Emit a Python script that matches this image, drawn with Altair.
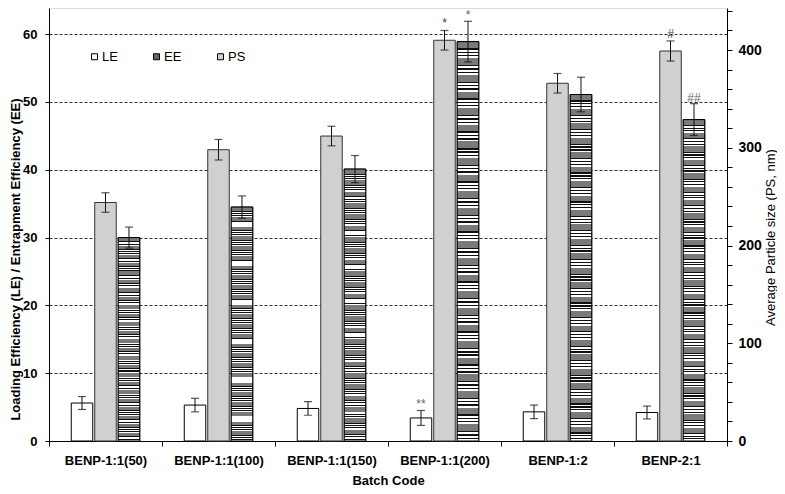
import altair as alt
import pandas as pd

categories = ["BENP-1:1(50)", "BENP-1:1(100)", "BENP-1:1(150)",
              "BENP-1:1(200)", "BENP-1:2", "BENP-2:1"]
le_values = [5.6, 5.3, 4.8, 3.4, 4.3, 4.2]
le_errors = [0.95, 1.0, 1.0, 1.1, 1.0, 0.95]
ee_values = [30.0, 34.5, 40.1, 58.9, 51.1, 47.4]
ee_errors = [1.55, 1.65, 2.0, 3.0, 2.55, 2.35]
ps_values = [244, 298, 312, 410, 366, 399]
ps_errors = [10, 10.5, 10, 10, 10, 10.3]

annot_batch = ["BENP-1:1(200)", "BENP-1:1(200)", "BENP-1:1(200)", "BENP-2:1", "BENP-2:1"]
annot_series = ["LE", "PS", "EE", "PS", "EE"]
annot_text = ["**", "*", "*", "#", "##"]

rows = []
for name, vals, errs in (("LE", le_values, le_errors),
                         ("EE", ee_values, ee_errors),
                         ("PS", ps_values, ps_errors)):
    for b, v, e in zip(categories, vals, errs):
        rows.append({"batch": b, "series": name, "value": v, "err": e,
                     "lo": v - e, "hi": v + e})
df = pd.DataFrame(rows)

arows = []
for b, s, t in zip(annot_batch, annot_series, annot_text):
    r = df[(df.batch == b) & (df.series == s)].iloc[0]
    arows.append({"batch": b, "series": s, "label": t, "hi": r.hi})
adf = pd.DataFrame(arows)

FONT = "Liberation Sans"
LEFT_MAX = 63.86
RIGHT_MAX = 443


def stripe_stops(n=120):
    stops = []
    for i in range(n):
        a = round(i / n, 5)
        b = round((i + 0.42) / n, 5)
        c = round((i + 1) / n, 5)
        if i % 5 in (0, 1):
            stops += [{"offset": a, "color": "#7a7a7a"}, {"offset": c, "color": "#7a7a7a"}]
        else:
            stops += [{"offset": a, "color": "#111111"}, {"offset": b, "color": "#111111"},
                      {"offset": b, "color": "#ffffff"}, {"offset": c, "color": "#ffffff"}]
    return stops


ee_gradient = {"gradient": "linear", "x1": 0, "y1": 0, "x2": 0, "y2": 1,
               "stops": stripe_stops()}

x_enc = alt.X("batch:N", sort=categories,
              scale=alt.Scale(paddingInner=0, paddingOuter=0),
              axis=alt.Axis(title="Batch Code", labelAngle=0, tickBand="extent",
                            labelFont=FONT, labelFontSize=13, labelFontWeight="bold",
                            labelColor="black", labelPadding=8, tickSize=5,
                            tickColor="black", domainColor="black",
                            titleFont=FONT, titleFontSize=13, titleFontWeight="bold",
                            titleColor="black", titleY=39, titleBaseline="middle"))
xo_enc = alt.XOffset("series:N",
                     scale=alt.Scale(domain=["LE", "PS", "EE"],
                                     paddingInner=0.085, paddingOuter=0.947))
fill_enc = alt.Fill("series:N",
                    scale=alt.Scale(domain=["LE", "EE", "PS"],
                                    range=["#ffffff", "#666666", "#d0d0d0"]),
                    legend=alt.Legend(orient="none", legendX=39, legendY=42,
                                      direction="horizontal", title=None,
                                      symbolType="square", symbolSize=36,
                                      symbolStrokeColor="black", symbolStrokeWidth=1,
                                      labelFont=FONT, labelFontSize=13,
                                      labelColor="black", labelOffset=1,
                                      columnPadding=32, padding=0))

left_axis = alt.Axis(values=[0, 10, 20, 30, 40, 50, 60], grid=True,
                     gridDash=[3, 2], gridColor="#333333", gridWidth=1,
                     tickSize=4, tickColor="black", domainColor="black",
                     labelFont=FONT, labelFontSize=13, labelFontWeight="bold",
                     labelColor="black", labelPadding=8,
                     titleFont=FONT, titleFontSize=13, titleFontWeight="bold",
                     titleColor="black", titleAngle=270, titleX=-34, titleY=251,
                     titleAlign="center", titleBaseline="middle")
right_axis = alt.Axis(orient="right", values=list(range(0, 441, 20)), grid=False,
                      labelExpr="datum.value % 100 == 0 ? datum.label : ''",
                      tickSize=5, tickColor="black", domainColor="black",
                      labelFont=FONT, labelFontSize=14, labelFontWeight="bold",
                      labelColor="black", labelPadding=6,
                      titleFont=FONT, titleFontSize=13, titleFontWeight="normal",
                      titleColor="black", titleAngle=270, titleX=43, titleY=229,
                      titleAlign="center", titleBaseline="middle")

LEFT_TITLE = "Loading Efficiency (LE) / Entrapment Efficiency (EE)"
RIGHT_TITLE = "Average Particle size (PS, nm)"


def yl(field):
    return alt.Y(f"{field}:Q", title=LEFT_TITLE,
                 scale=alt.Scale(domain=[0, LEFT_MAX], nice=False, zero=True),
                 axis=left_axis)


def yr(field):
    return alt.Y(f"{field}:Q", title=RIGHT_TITLE,
                 scale=alt.Scale(domain=[0, RIGHT_MAX], nice=False, zero=True),
                 axis=right_axis)


base = alt.Chart(df)
left_data = base.transform_filter("datum.series != 'PS'")
right_data = base.transform_filter("datum.series == 'PS'")

left_bars = left_data.mark_bar(stroke="black", strokeWidth=1).encode(
    x=x_enc, xOffset=xo_enc, y=yl("value"), fill=fill_enc)
ee_bars = base.transform_filter("datum.series == 'EE'").mark_bar(
    stroke="black", strokeWidth=1, fill=ee_gradient).encode(
    x=x_enc, xOffset=xo_enc, y=yl("value"))
left_rule = left_data.mark_rule(color="#111111", strokeWidth=1).encode(
    x=x_enc, xOffset=xo_enc, y=yl("lo"), y2="hi:Q")
left_cap_hi = left_data.mark_tick(color="#111111", size=8, thickness=1.2).encode(
    x=x_enc, xOffset=xo_enc, y=yl("hi"))
left_cap_lo = left_data.mark_tick(color="#111111", size=8, thickness=1.2).encode(
    x=x_enc, xOffset=xo_enc, y=yl("lo"))
left_text = alt.Chart(adf).transform_filter("datum.series != 'PS'").mark_text(
    font=FONT, fontSize=12, color="#666666", baseline="middle", dy=-6).encode(
    x=x_enc, xOffset=xo_enc, y=yl("hi"), text="label:N")

right_bars = right_data.mark_bar(stroke="#333333", strokeWidth=1).encode(
    x=x_enc, xOffset=xo_enc, y=yr("value"), fill=fill_enc)
right_rule = right_data.mark_rule(color="#111111", strokeWidth=1).encode(
    x=x_enc, xOffset=xo_enc, y=yr("lo"), y2="hi:Q")
right_cap_hi = right_data.mark_tick(color="#111111", size=8, thickness=1.2).encode(
    x=x_enc, xOffset=xo_enc, y=yr("hi"))
right_cap_lo = right_data.mark_tick(color="#111111", size=8, thickness=1.2).encode(
    x=x_enc, xOffset=xo_enc, y=yr("lo"))
right_text = alt.Chart(adf).transform_filter("datum.series == 'PS'").mark_text(
    font=FONT, fontSize=12, color="#444444", baseline="middle", dy=-7).encode(
    x=x_enc, xOffset=xo_enc, y=yr("hi"), text="label:N")

left = alt.layer(left_bars, ee_bars, left_rule, left_cap_hi, left_cap_lo, left_text)
right = alt.layer(right_bars, right_rule, right_cap_hi, right_cap_lo, right_text)

chart = alt.layer(left, right).resolve_scale(y="independent").properties(
    width=678, height=433,
    autosize=alt.AutoSizeParams(type="none"),
    padding={"left": 41, "top": 0, "right": 50, "bottom": 45},
).configure_view(stroke=None).configure(background="white")

chart.save("out.html", embed_options={"renderer": "svg", "actions": False})
